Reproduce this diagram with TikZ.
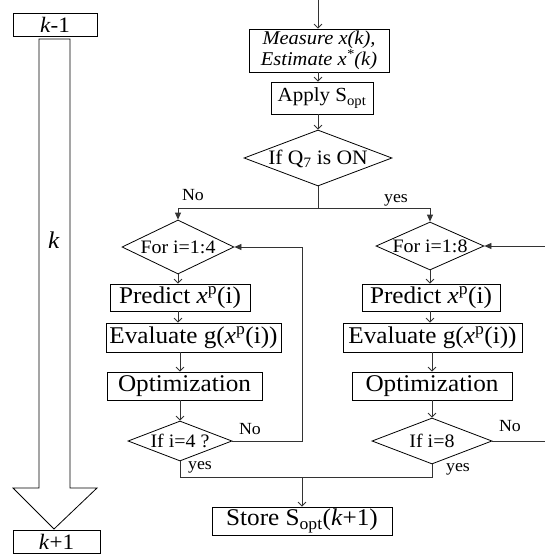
\documentclass[tikz,border=0pt]{standalone}
\usepackage{fontspec}
\setmainfont{Liberation Serif}[FakeStretch=1.05]
\usetikzlibrary{arrows.meta,shapes.geometric}
\newcommand\dtext[1]{\smash{\makebox[0pt]{\raisebox{-0.33em}{#1}}}}
\newcommand\fs[1]{\fontsize{#1}{#1}\selectfont}
\begin{document}
\begin{tikzpicture}[x=1pt,y=-1pt,
  box/.style={draw=black, line width=0.8pt, inner sep=0pt, anchor=center},
  dia/.style={draw=black, line width=0.8pt, shape=diamond, inner sep=0pt},
  con/.style={draw=black!80, line width=0.8pt},
  openarr/.style={con, -{Straight Barb[length=4pt,width=8pt]}},
  fillarr/.style={con, -{Triangle[length=7pt,width=6pt]}},
  lab/.style={inner sep=0pt, font=\fs{17}},
]
\useasboundingbox (0,0) rectangle (545,554);

% left time arrow
\node[box, minimum width=84pt, minimum height=23pt, font=\fs{22}] (km) at (55,24.5) {\textit{k}-1};
\node[box, minimum width=87pt, minimum height=23pt, font=\fs{22}] (kp) at (56.5,541.5) {\textit{k}+1};
\draw[line width=0.8pt] (39,39) -- (39,488) -- (13,488) -- (54,529) -- (97,488) -- (70,488) -- (70,39) -- cycle;
\node[lab, font=\fs{24}] (k) at (54,240) {\textit{k}};

% main column
\coordinate (top) at (318,0);
\node[box, minimum width=140pt, minimum height=43pt, align=center, font=\fontsize{19.5}{21}\selectfont\itshape] (meas) at (319,50.5) {Measure x(k),\\Estimate x\textsuperscript{*}(k)};
\node[box, minimum width=102pt, minimum height=32pt, font=\fs{20}] (apply) at (322,98) {Apply S\textsubscript{opt}};
\node[dia, minimum width=148pt, minimum height=56pt, font=\fs{20.5}] (q7) at (318,158) {\dtext{If Q\textsubscript{7} is ON}};
\coordinate (split) at (318,208);

\draw[openarr] (top) -- (top |- meas.north);
\draw[openarr] (meas.south -| top) -- (apply.north -| top);
\draw[openarr] (apply.south -| top) -- (q7.north);
\draw[con] (q7.south) -- (split);

% left branch
\node[dia, minimum width=112pt, minimum height=54pt, font=\fs{19}] (f4) at (178,247) {\dtext{For i=1:4}};
\node[box, minimum width=140pt, minimum height=27pt, font=\fs{24}] (pl) at (180,297.5) {Predict \textit{x}\textsuperscript{p}(i)};
\node[box, minimum width=175pt, minimum height=29pt, font=\fs{24}] (el) at (193.5,337.5) {Evaluate g(\textit{x}\textsuperscript{p}(i))};
\node[box, minimum width=155pt, minimum height=28pt, font=\fs{24}] (ol) at (184.5,386) {Optimization};
\node[dia, minimum width=104pt, minimum height=40pt, font=\fs{19}] (i4) at (180,441) {\dtext{If i=4 ?}};

\draw[fillarr] (split) -| (f4.north);
\draw[openarr] (f4.south) -- (pl.north -| f4);
\draw[openarr] (pl.south -| f4) -- (el.north -| f4);
\draw[openarr] (el.south -| i4) -- (ol.north -| i4);
\draw[openarr] (ol.south -| i4) -- (i4.north);
\coordinate (rl) at (302,441);
\draw[fillarr] (i4.east) -- (rl) |- (f4.east);

% right branch
\node[dia, minimum width=108pt, minimum height=48pt, font=\fs{19}] (f8) at (430,246) {\dtext{For i=1:8}};
\node[box, minimum width=138pt, minimum height=27pt, font=\fs{24}] (pr) at (431,297.5) {Predict \textit{x}\textsuperscript{p}(i)};
\node[box, minimum width=179pt, minimum height=29pt, font=\fs{24}] (er) at (432.5,337.5) {Evaluate g(\textit{x}\textsuperscript{p}(i))};
\node[box, minimum width=160pt, minimum height=28pt, font=\fs{24}] (or) at (432,386) {Optimization};
\node[dia, minimum width=120pt, minimum height=46pt, font=\fs{19}] (i8) at (432,441) {\dtext{If i=8}};

\draw[fillarr] (split) -| (f8.north);
\coordinate (in8) at (545,246);
\draw[fillarr] (in8) -- (f8.east);
\draw[openarr] (f8.south) -- (pr.north -| f8);
\draw[openarr] (pr.south -| f8) -- (er.north -| f8);
\draw[openarr] (er.south -| i8) -- (or.north -| i8);
\draw[openarr] (or.south -| i8) -- (i8.north);
\coordinate (out8) at (545,441);
\draw[con] (i8.east) -- (out8);

% join and store
\coordinate (join) at (302,477);
\node[box, minimum width=180pt, minimum height=28pt, font=\fs{24}] (store) at (302,521) {Store S\textsubscript{opt}(\textit{k}+1)};
\draw[con] (i4.south) |- (join);
\draw[con] (i8.south) |- (join);
\draw[openarr] (join) -- (store.north);

% labels
\node[lab] (lno) at (193,195) {No};
\node[lab] (lyes) at (396,200) {yes};
\node[lab] (lno4) at (250,429) {No};
\node[lab] (lyes4) at (200,467) {yes};
\node[lab] (lno8) at (510,426) {No};
\node[lab] (lyes8) at (458,469) {yes};
\end{tikzpicture}
\end{document}
